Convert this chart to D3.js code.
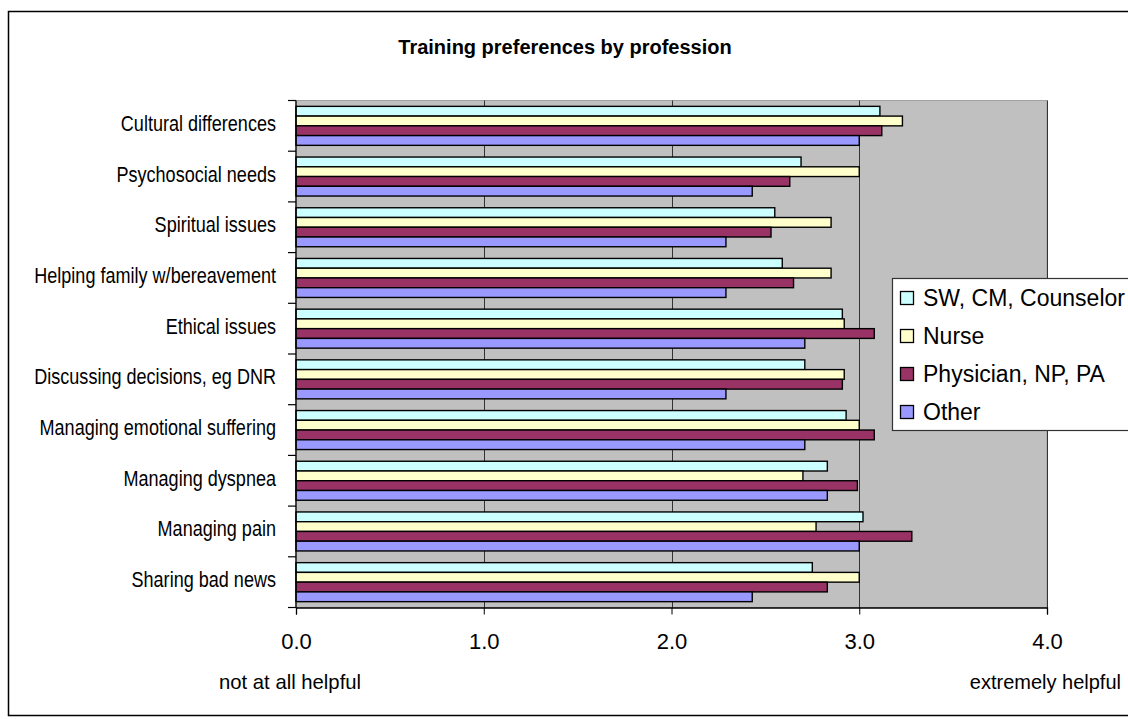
<!DOCTYPE html>
<html>
<head>
<meta charset="utf-8">
<script src="https://cdn.jsdelivr.net/npm/d3@7/dist/d3.min.js"></script>
<style>
  html, body { margin: 0; padding: 0; background: #fff; }
  svg { display: block; font-family: "Liberation Sans", Arial, sans-serif; }
</style>
</head>
<body>
<svg id="chart" width="1128" height="719"></svg>
<script>
// Training topics, listed top to bottom as drawn
const categories = [
  "Cultural differences",
  "Psychosocial needs",
  "Spiritual issues",
  "Helping family w/bereavement",
  "Ethical issues",
  "Discussing decisions, eg DNR",
  "Managing emotional suffering",
  "Managing dyspnea",
  "Managing pain",
  "Sharing bad news"
];

// Mean helpfulness rating (0 = not at all helpful, 4 = extremely helpful)
const seriesNames = ["SW, CM, Counselor", "Nurse", "Physician, NP, PA", "Other"];
const swCmCounselor = [3.11, 2.69, 2.55, 2.59, 2.91, 2.71, 2.93, 2.83, 3.02, 2.75];
const nurse         = [3.23, 3.00, 2.85, 2.85, 2.92, 2.92, 3.00, 2.70, 2.77, 3.00];
const physician     = [3.12, 2.63, 2.53, 2.65, 3.08, 2.91, 3.08, 2.99, 3.28, 2.83];
const other         = [3.00, 2.43, 2.29, 2.29, 2.71, 2.29, 2.71, 2.83, 3.00, 2.43];
const seriesColors  = ["#CCFFFF", "#FFFFCC", "#993366", "#9999FF"];

const xTicks = [0, 1, 2, 3, 4];
const chartTitle = "Training preferences by profession";
const lowLabel = "not at all helpful";
const highLabel = "extremely helpful";

const series = [swCmCounselor, nurse, physician, other];

const svg = d3.select("#chart");
const plot = { left: 296, right: 1047, top: 100.5, bottom: 607.5 };

// Outer chart frame
svg.append("rect")
  .attr("x", 8.5).attr("y", 11.5)
  .attr("width", 1140).attr("height", 704)
  .attr("fill", "#fff").attr("stroke", "#000").attr("stroke-width", 1.5);

// Title
svg.append("text")
  .attr("x", 565).attr("y", 54)
  .attr("text-anchor", "middle")
  .attr("font-weight", "bold").attr("font-size", 20)
  .text(chartTitle);

const x = d3.scaleLinear().domain([0, 4]).range([plot.left, plot.right]);
const y = d3.scaleBand().domain(categories).range([plot.top, plot.bottom]).padding(0);
const ySub = d3.scaleBand().domain(d3.range(series.length))
  .range([0, y.bandwidth()]).paddingInner(0).paddingOuter(0.6);

// Plot area background
svg.append("rect")
  .attr("x", plot.left).attr("y", plot.top)
  .attr("width", plot.right - plot.left).attr("height", plot.bottom - plot.top)
  .attr("fill", "#C0C0C0").attr("stroke", "#A0A0A0").attr("stroke-width", 1);

// Vertical gridlines
svg.append("g").selectAll("line")
  .data(xTicks.filter(d => d > 0))
  .join("line")
  .attr("x1", d => Math.round(x(d)) + 0.5).attr("x2", d => Math.round(x(d)) + 0.5)
  .attr("y1", plot.top).attr("y2", plot.bottom)
  .attr("stroke", "#333").attr("stroke-width", 1);

// Bars
const groups = svg.append("g").selectAll("g")
  .data(categories)
  .join("g")
  .attr("transform", d => `translate(0,${y(d)})`);

groups.selectAll("rect")
  .data((d, i) => series.map((s, k) => ({ k, v: s[i] })))
  .join("rect")
  .attr("x", x(0))
  .attr("y", d => ySub(d.k))
  .attr("width", d => x(d.v) - x(0))
  .attr("height", ySub.bandwidth())
  .attr("fill", d => seriesColors[d.k])
  .attr("stroke", "#000").attr("stroke-width", 1.4);

// Bottom axis
const xAxis = svg.append("g")
  .attr("transform", `translate(0,${plot.bottom})`)
  .call(d3.axisBottom(x).tickValues(xTicks).tickFormat(d3.format(".1f")).tickSize(7).tickPadding(19));
xAxis.select(".domain").attr("stroke", "#000").attr("stroke-width", 1.3);
xAxis.selectAll(".tick line").attr("stroke", "#000");
xAxis.selectAll(".tick text")
  .attr("font-family", "Liberation Sans, Arial, sans-serif")
  .attr("font-size", 22).attr("fill", "#000");

// Left axis: tick marks at band boundaries, labels centred on bands
const leftAxis = svg.append("g");
leftAxis.append("line")
  .attr("x1", plot.left).attr("x2", plot.left)
  .attr("y1", plot.top).attr("y2", plot.bottom)
  .attr("stroke", "#000").attr("stroke-width", 1.3);
const boundaries = categories.map(c => y(c)).concat([plot.bottom]);
leftAxis.selectAll("line.tick")
  .data(boundaries)
  .join("line").attr("class", "tick")
  .attr("x1", plot.left - 8).attr("x2", plot.left)
  .attr("y1", d => d).attr("y2", d => d)
  .attr("stroke", "#000").attr("stroke-width", 1.2);
leftAxis.selectAll("text")
  .data(categories)
  .join("text")
  .attr("transform", d => `translate(276,${y(d) + y.bandwidth() / 2 + 5}) scale(0.84,1)`)
  .attr("text-anchor", "end")
  .attr("font-size", 21.5)
  .text(d => d);

// Scale end descriptions
svg.append("text").attr("x", 219).attr("y", 689).attr("font-size", 20.3).text(lowLabel);
svg.append("text").attr("x", 1121).attr("y", 689).attr("text-anchor", "end").attr("font-size", 20).text(highLabel);

// Legend
const legend = svg.append("g");
legend.append("rect")
  .attr("x", 892.5).attr("y", 278.5).attr("width", 250).attr("height", 152)
  .attr("fill", "#fff").attr("stroke", "#333").attr("stroke-width", 1.2);
const items = legend.selectAll("g.item")
  .data(seriesNames)
  .join("g").attr("class", "item")
  .attr("transform", (d, i) => `translate(900,${298 + i * 38})`);
items.append("rect")
  .attr("x", 0.5).attr("y", -6.5).attr("width", 13).attr("height", 13)
  .attr("fill", (d, i) => seriesColors[i])
  .attr("stroke", "#000").attr("stroke-width", 1.3);
items.append("text")
  .attr("x", 23).attr("y", 8)
  .attr("font-size", 23)
  .text(d => d);
</script>
</body>
</html>
